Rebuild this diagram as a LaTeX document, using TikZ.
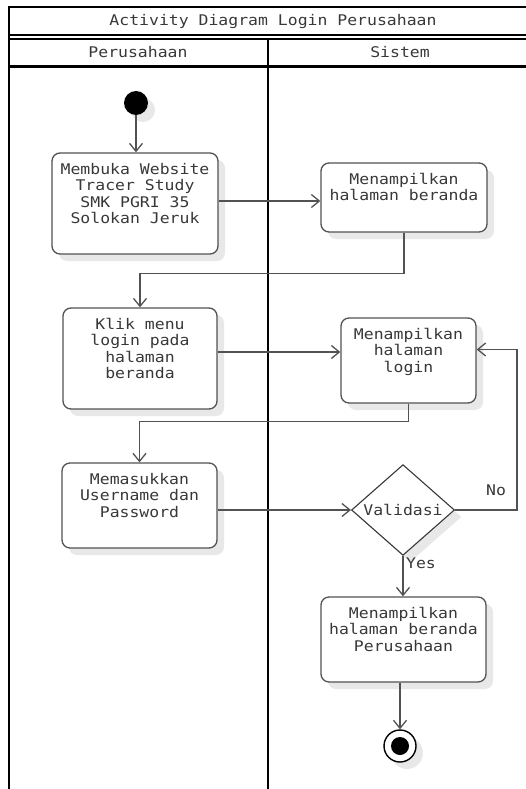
\documentclass[tikz,border=0pt]{standalone}
\usepackage{fontspec}
\newfontfamily\dmono[FakeStretch=1.12]{DejaVu Sans Mono}
\usetikzlibrary{shapes.geometric, arrows.meta, shadows}
\newcommand{\acttext}[3]{\parbox[c][#2][t]{#1}{\centering\vspace*{10pt}#3\par}}
\begin{document}
\begin{tikzpicture}[x=1pt,y=-1pt,
  font=\dmono\fontsize{14.7pt}{16.5pt}\selectfont,
  txt/.style={text=black!78, inner sep=0pt},
  frameline/.style={line width=2.4pt, black},
  shad/.style={drop shadow={shadow xshift=7pt, shadow yshift=-7pt, fill=black!9, opacity=1}},
  actbox/.style={draw=black!68, line width=1.3pt, rounded corners=8pt, fill=white, inner sep=0pt, text=black!78, shad},
  decision/.style={diamond, draw=black!78, line width=1.1pt, fill=white, inner sep=0pt, minimum width=103pt, minimum height=73pt, text=black!78, shad},
  flow/.style={draw=black!68, line width=1.3pt, -{Straight Barb[length=8pt,width=13pt]}},
  startdot/.style={circle, fill=black, minimum size=24pt, inner sep=0pt, shad},
  enddot/.style={circle, draw=black, line width=1.4pt, fill=white, minimum size=32pt, inner sep=0pt, shad},
  endin/.style={circle, fill=black, minimum size=18pt, inner sep=0pt}
]
\useasboundingbox (0,0) rectangle (526,789);
% frame
\draw[frameline] (526,7) -- (9,7) -- (9,789);
\draw[frameline] (9,35) -- (526,35);
\draw[frameline] (9,39) -- (526,39);
\draw[frameline] (9,66.5) -- (526,66.5);
\draw[frameline] (268,39) -- (268,789);
% headers
\node[txt] (title) at (273,21) {Activity Diagram Login Perusahaan};
\node[txt] (lane1) at (138,52) {Perusahaan};
\node[txt] (lane2) at (400,52) {Sistem};
% nodes
\node[startdot] (start) at (136,103) {};
\node[actbox] (box1) at (135,203.5) {\acttext{166pt}{101pt}{Membuka Website\\Tracer Study\\SMK PGRI 35\\Solokan Jeruk}};
\node[actbox] (box2) at (404,197.5) {\acttext{166pt}{69pt}{Menampilkan\\halaman beranda}};
\node[actbox] (box3) at (140,358.5) {\acttext{154pt}{101pt}{Klik menu\\login pada\\halaman\\beranda}};
\node[actbox] (box4) at (408.5,360.5) {\acttext{135pt}{85pt}{Menampilkan\\halaman\\login}};
\node[actbox] (box5) at (139.5,505.5) {\acttext{155pt}{85pt}{Memasukkan\\Username dan\\Password}};
\node[decision] (dia) at (403,510) {Validasi};
\node[actbox] (box6) at (403.5,639.5) {\acttext{165pt}{85pt}{Menampilkan\\halaman beranda\\Perusahaan}};
\node[enddot] (end) at (400,746) {};
\node[endin] (endc) at (end) {};
% labels
\node[txt] (lno) at (496,490) {No};
\node[txt] (lyes) at (421,563) {Yes};
% connectors
\draw[flow] (start) -- (start |- box1.north);
\draw[flow] ([yshift=2.5pt]box1.east) -- ([yshift=2.5pt]box1.east -| box2.west);
\draw[flow] (box2.south) -- ++(0,41) -| (box3.north);
\draw[flow] ([yshift=6.5pt]box3.east) -- ([yshift=6.5pt]box3.east -| box4.west);
\draw[flow] (box4.south) -- ++(0,18) -| (box5.north);
\draw[flow] (box5.east |- dia.west) -- (dia.west);
\draw[flow] (dia.east) -- ++(62,0) |- ([yshift=11pt]box4.east);
\draw[flow] (dia.south) -- (dia.south |- box6.north);
\draw[flow] (end |- box6.south) -- (end);
\end{tikzpicture}
\end{document}
